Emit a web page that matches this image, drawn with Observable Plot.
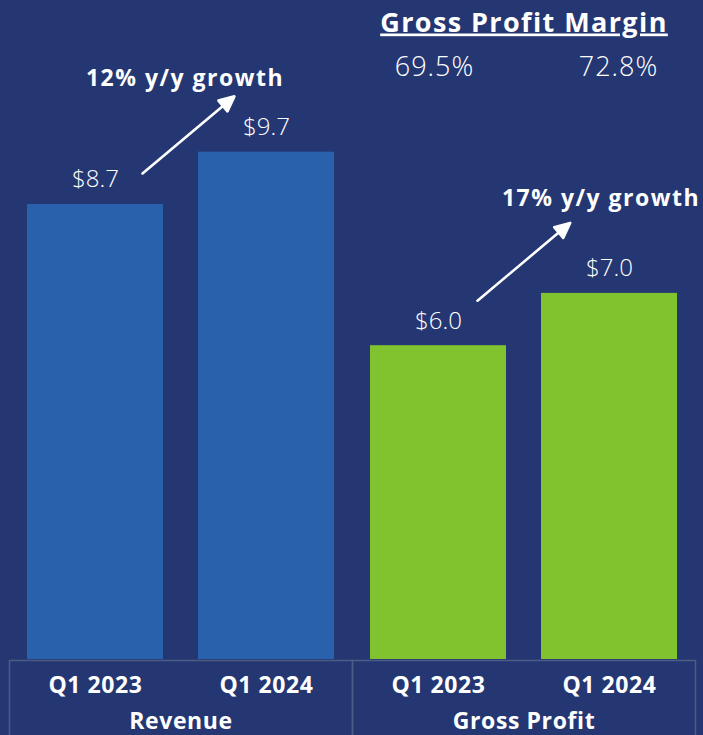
<!DOCTYPE html>
<html><head><meta charset="utf-8">
<script src="https://cdn.jsdelivr.net/npm/d3@7"></script>
<script src="https://cdn.jsdelivr.net/npm/@observablehq/plot@0.6"></script>
<style>
html,body{margin:0;padding:0;background:#253772;}
#chart svg g[aria-label="x-axis tick label"] text,
#chart svg g[aria-label="fx-axis tick label"] text{letter-spacing:0.6px;}
#chart svg text[aria-label="growth"]{letter-spacing:1.5px;}
#chart svg text[aria-label="gpm-title"]{letter-spacing:1.4px;text-decoration:underline;}
#chart svg text[aria-label="gpm"]{letter-spacing:1px;}
</style></head><body><div id="chart"></div>
<script>
const metrics = ["Revenue", "Gross Profit"];
const quarters = ["Q1 2023", "Q1 2024"];
const revenue = [8.7, 9.7];
const grossProfit = [6.0, 7.0];
const grossMargin = ["69.5%", "72.8%"];
const growthLabels = ["12% y/y growth", "17% y/y growth"];
const marginTitle = "Gross Profit Margin";
const colors = ["#2a61ad", "#80c32f"];

const bars = [];
metrics.forEach((m, i) => quarters.forEach((q, j) =>
  bars.push({metric: m, quarter: q, value: (i ? grossProfit : revenue)[j]})));
const marginRows = quarters.map((q, j) => ({metric: "Gross Profit", quarter: q, text: grossMargin[j]}));
const firsts = bars.filter(d => d.quarter === quarters[0]);
const growth = metrics.map((m, i) => ({metric: m, text: growthLabels[i]}));

const arrowShape = {
  draw(ctx, l) {
    const h = 15, w = 7;
    ctx.moveTo(0, 0);
    ctx.lineTo(0, -l + h);
    ctx.moveTo(0, -l);
    ctx.lineTo(-w, -l + h);
    ctx.lineTo(w, -l + h);
    ctx.closePath();
  }
};

const bold = {fontWeight: "bold", fill: "white"};
const light = {fontWeight: 300, fill: "white"};

const plot = Plot.plot({
  width: 703, height: 735,
  marginTop: 0, marginBottom: 76, marginLeft: 9, marginRight: 8,
  style: {background: "#253772", color: "white", fontFamily: "'Open Sans', sans-serif"},
  fx: {domain: metrics, padding: 0, axis: null},
  x: {domain: quarters, paddingInner: 0.206, paddingOuter: 0.103, axis: null},
  y: {domain: [0, 12.6], axis: null},
  color: {domain: metrics, range: colors},
  marks: [
    Plot.frame({stroke: "#4d5c84", strokeWidth: 1.5, insetTop: 660, insetBottom: -80}),
    Plot.barY(bars, {fx: "metric", x: "quarter", y: "value", fill: "metric"}),
    Plot.text(bars, {fx: "metric", x: "quarter", y: "value", text: d => "$" + d.value.toFixed(1),
      lineAnchor: "bottom", dy: -17, fontSize: 24, ...light}),
    Plot.vector([firsts[0]], {fx: "metric", x: "quarter", y: "value", dx: 47, dy: -31,
      rotate: 50, length: 120, anchor: "start", shape: arrowShape, stroke: "white", fill: "white", strokeWidth: 2.6}),
    Plot.vector([firsts[1]], {fx: "metric", x: "quarter", y: "value", dx: 39, dy: -45,
      rotate: 50, length: 121, anchor: "start", shape: arrowShape, stroke: "white", fill: "white", strokeWidth: 2.6}),
    Plot.text([growth[0]], {fx: "metric", text: "text", frameAnchor: "top", dx: 4, dy: 85,
      lineAnchor: "bottom", fontSize: 23, ariaLabel: () => "growth", ...bold}),
    Plot.text([growth[1]], {fx: "metric", text: "text", frameAnchor: "top", dx: 77, dy: 205,
      lineAnchor: "bottom", fontSize: 23, ariaLabel: () => "growth", ...bold}),
    Plot.text([{metric: "Gross Profit", text: marginTitle}], {fx: "metric", text: "text", frameAnchor: "top",
      dy: 31, lineAnchor: "bottom", fontSize: 27, ariaLabel: () => "gpm-title", ...bold}),
    Plot.text([marginRows[0]], {fx: "metric", x: "quarter", text: "text", frameAnchor: "top", dx: -4, dy: 75,
      lineAnchor: "bottom", fontSize: 27, ariaLabel: () => "gpm", ...light}),
    Plot.text([marginRows[1]], {fx: "metric", x: "quarter", text: "text", frameAnchor: "top", dx: 9, dy: 75,
      lineAnchor: "bottom", fontSize: 27, ariaLabel: () => "gpm", ...light}),
    Plot.axisX({anchor: "bottom", label: null, tickSize: 0, tickPadding: 17, fontSize: 23, ...bold}),
    Plot.axisFx({anchor: "bottom", label: null, tickSize: 0, tickPadding: 53, fontSize: 23, ...bold})
  ]
});
document.getElementById("chart").appendChild(plot);
</script></body></html>
